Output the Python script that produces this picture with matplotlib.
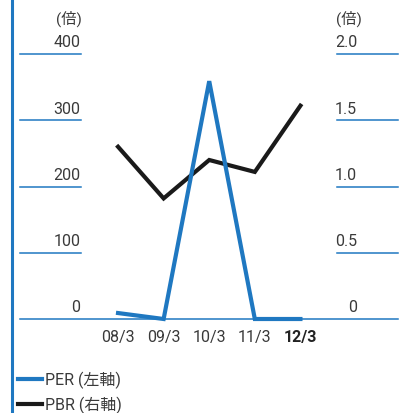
import matplotlib
matplotlib.use("Agg")
import matplotlib.pyplot as plt
from matplotlib.lines import Line2D
from matplotlib.transforms import blended_transform_factory

plt.rcParams['font.family'] = ['Roboto', 'Noto Sans CJK JP', 'DejaVu Sans']

# data
periods = ['08/3', '09/3', '10/3', '11/3', '12/3']
per = [9, 0, 359, 0, 0]            # left axis (倍)
pbr = [1.30, 0.91, 1.20, 1.11, 1.61]  # right axis (倍)
left_ticks = [0, 100, 200, 300, 400]
right_ticks = [0, 0.5, 1.0, 1.5, 2.0]
right_labels = ['0', '0.5', '1.0', '1.5', '2.0']

BLUE = '#1f78c1'
TEXT = '#3a3a3a'
W, H = 401, 414

fig = plt.figure(figsize=(W / 100, H / 100), dpi=100)

# plot area in pixels: x 20..398, y 55..320 (top at 400, bottom at 0)
left_px, right_px, top_px, bot_px = 20, 398, 55, 320
ax = fig.add_axes([left_px / W, 1 - bot_px / H, (right_px - left_px) / W, (bot_px - top_px) / H])
ax.set_xlim(-2.15, 6.14)
ax.set_ylim(0, 400)
ax.axis('off')
ax.patch.set_alpha(0)

ax2 = ax.twinx()
ax2.set_xlim(-2.15, 6.14)
ax2.set_ylim(0, 2.0)
ax2.axis('off')

tr = blended_transform_factory(ax.transAxes, ax.transData)
span = right_px - left_px
lx0, lx1 = 0.0, (81 - left_px) / span
rx0, rx1 = (337 - left_px) / span, 1.0

for v in left_ticks:
    if v == 0:
        ax.plot([0, 1], [0, 0], transform=tr, color=BLUE, lw=1.1, clip_on=False)
    else:
        ax.plot([lx0, lx1], [v, v], transform=tr, color=BLUE, lw=1.1, clip_on=False)
    ax.text(lx1 - 0.002, v + 7, str(v), transform=tr, ha='right', va='bottom',
            fontsize=11.5, color=TEXT)

for v, lab in zip(right_ticks, right_labels):
    yv = v * 200
    if v != 0:
        ax.plot([rx0, rx1], [yv, yv], transform=tr, color=BLUE, lw=1.1, clip_on=False)
    ax.text((357 - left_px) / span, yv + 7, lab, transform=tr,
            ha='right', va='bottom', fontsize=11.5, color=TEXT)

unit_y = 1.0 + 36 / (bot_px - top_px)
ax.text((82 - left_px) / span, unit_y, '(倍)', transform=ax.transAxes, ha='right',
        va='center', fontsize=11, color=TEXT)
ax.text((362 - left_px) / span, unit_y, '(倍)', transform=ax.transAxes, ha='right',
        va='center', fontsize=11, color=TEXT)

xs = list(range(len(periods)))
ax2.plot(xs, pbr, color='#1a1a1a', lw=3.0, solid_joinstyle='miter', clip_on=False, zorder=3)
ax.plot(xs, per, color=BLUE, lw=3.0, solid_joinstyle='miter', clip_on=False, zorder=4)
ax.set_zorder(ax2.get_zorder() + 1)

for i, p in enumerate(periods):
    last = i == len(periods) - 1
    ax.text(i, -26, p, ha='center', va='center', fontsize=11.5,
            color='#222222' if last else TEXT,
            fontweight='bold' if last else 'normal')

# vertical blue rule on the left edge
fig.add_artist(Line2D([12 / W, 12 / W], [0, 1], color=BLUE, lw=2.2))

# legend
for y, col, lab in [(380, BLUE, 'PER (左軸)'), (405, '#1a1a1a', 'PBR (右軸)')]:
    fig.add_artist(Line2D([18 / W, 42 / W], [1 - y / H, 1 - y / H], color=col, lw=3.0))
    fig.text(45 / W, 1 - y / H, lab, ha='left', va='center', fontsize=11.5, color=TEXT)

fig.savefig('out.png', dpi=100)
